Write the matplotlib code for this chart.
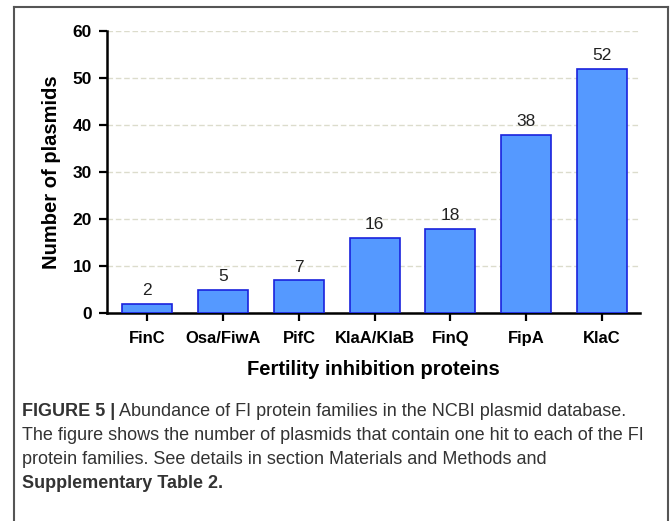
import matplotlib
matplotlib.use("Agg")
import matplotlib.pyplot as plt
from matplotlib.lines import Line2D

plt.rcParams["font.family"] = ["Liberation Sans", "DejaVu Sans"]

# data
proteins = ["FinC", "Osa/FiwA", "PifC", "KlaA/KlaB", "FinQ", "FipA", "KlaC"]
counts = [2, 5, 7, 16, 18, 38, 52]
yticks = [0, 10, 20, 30, 40, 50, 60]

caption_head = "FIGURE 5 |"
caption_lines = [
    " Abundance of FI protein families in the NCBI plasmid database.",
    "The figure shows the number of plasmids that contain one hit to each of the FI",
    "protein families. See details in section Materials and Methods and",
]
caption_tail = "Supplementary Table 2."

fig = plt.figure(figsize=(6.70, 5.21), dpi=100)
ax = fig.add_axes([0.160, 0.399, 0.795, 0.541])

x = range(len(proteins))
bars = ax.bar(x, counts, width=0.66, color="#5599ff", edgecolor="#1a22dd",
              linewidth=1.2, zorder=3)
for b, v in zip(bars, counts):
    ax.annotate(str(v), (b.get_x() + b.get_width() / 2, v), xytext=(0, 4),
                textcoords="offset points", ha="center", va="bottom",
                fontsize=12.5, color="#222222")

ax.set_xlim(-0.53, 6.5)
ax.set_ylim(0, 60)
ax.set_yticks(yticks)
ax.set_xticks(list(x))
ax.set_xticklabels(proteins)
for lab in ax.get_xticklabels():
    lab.set_fontweight("bold")
    lab.set_fontsize(12)
for lab in ax.get_yticklabels():
    lab.set_fontweight("bold")
    lab.set_fontsize(12.5)
ax.yaxis.grid(True, linestyle=(0, (4, 2)), color="#dcdccc", linewidth=1.0, zorder=0)
for s in ["top", "right"]:
    ax.spines[s].set_visible(False)
for s in ["left", "bottom"]:
    ax.spines[s].set_linewidth(1.8)
ax.tick_params(axis="both", width=1.6, length=6)
ax.tick_params(axis="x", pad=7)
ax.tick_params(axis="y", pad=5)
ax.set_ylabel("Number of plasmids", fontsize=14.5, fontweight="bold", labelpad=8)
ax.set_xlabel("Fertility inhibition proteins", fontsize=14.5, fontweight="bold",
              labelpad=10)

# outer frame (left, top, right)
frame_kw = dict(color="#555555", linewidth=1.5, transform=fig.transFigure)
fig.add_artist(Line2D([0.021, 0.021], [0.0, 0.987], **frame_kw))
fig.add_artist(Line2D([0.021, 0.997], [0.987, 0.987], **frame_kw))
fig.add_artist(Line2D([0.997, 0.997], [0.0, 0.987], **frame_kw))

# caption
cap_kw = dict(fontsize=13, color="#333333", va="center", ha="left")
x0 = 22 / 670
ys = [1 - 411 / 521, 1 - 435 / 521, 1 - 459 / 521, 1 - 484 / 521]
head = fig.text(x0, ys[0], caption_head, fontweight="bold", **cap_kw)
fig.canvas.draw()
bb = head.get_window_extent().transformed(fig.transFigure.inverted())
fig.text(bb.x1, ys[0], caption_lines[0], **cap_kw)
fig.text(x0, ys[1], caption_lines[1], **cap_kw)
fig.text(x0, ys[2], caption_lines[2], **cap_kw)
fig.text(x0, ys[3], caption_tail, fontweight="bold", **cap_kw)

fig.savefig("out.png", dpi=100)
